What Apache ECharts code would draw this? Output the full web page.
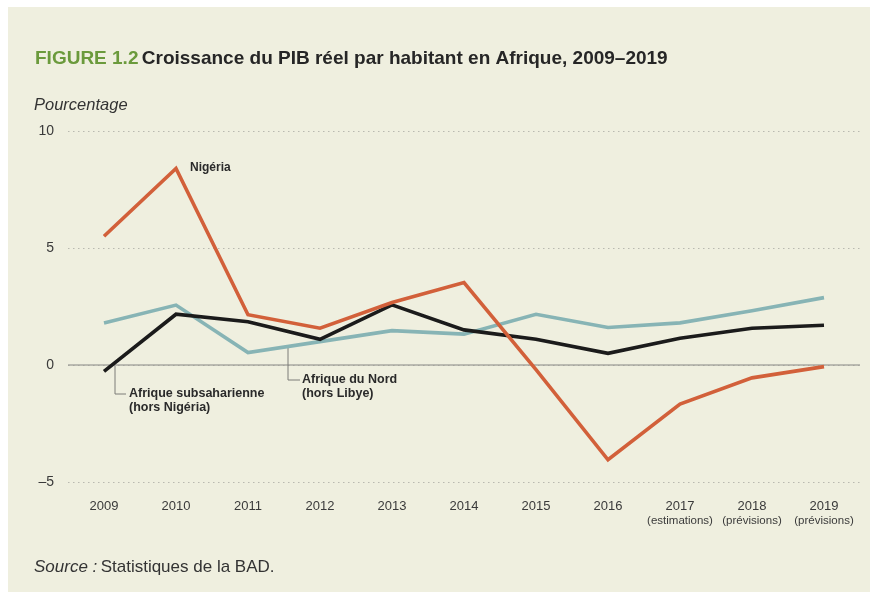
<!DOCTYPE html>
<html>
<head>
<meta charset="utf-8">
<script src="https://cdn.jsdelivr.net/npm/echarts@6/dist/echarts.min.js"></script>
<style>
    html, body { margin: 0; padding: 0; background: #fff; }
    #chart { width: 875px; height: 597px; }
</style>
</head>
<body>
<div id="chart"></div>
<script>
    // données
    const years = ['2009', '2010', '2011', '2012', '2013', '2014', '2015', '2016', '2017', '2018', '2019'];
    const yearNotes = ['', '', '', '', '', '', '', '', '(estimations)', '(prévisions)', '(prévisions)'];
    const nigeria = [5.5, 8.4, 2.15, 1.57, 2.67, 3.52, -0.2, -4.05, -1.67, -0.55, -0.07];
    const subsaharienne = [-0.27, 2.17, 1.85, 1.1, 2.57, 1.5, 1.1, 0.5, 1.14, 1.57, 1.7];
    const nord = [1.8, 2.56, 0.53, 1.0, 1.47, 1.32, 2.17, 1.6, 1.8, 2.32, 2.88];
    const yTicks = [-5, 0, 5, 10];

    const colors = {
        nigeria: '#d2603a',
        ssa: '#1b1b1b',
        nord: '#87b4b5'
    };
    const font = '"Liberation Sans", Arial, sans-serif';

    const lineSeries = (name, data, color) => ({
        name,
        type: 'line',
        data,
        symbol: 'none',
        animation: false,
        lineStyle: { color, width: 3.6, join: 'miter' },
        z: 3
    });

    const chart = echarts.init(document.getElementById('chart'));

    let option = {
        backgroundColor: '#fff',
        animation: false,
        grid: { left: 68, right: 15, top: 131, bottom: 115 },
        xAxis: {
            type: 'category',
            data: years,
            boundaryGap: true,
            axisLine: { show: false },
            axisTick: { show: false },
            axisLabel: {
                interval: 0,
                margin: 17,
                lineHeight: 14,
                formatter: (v, i) => yearNotes[i] ? `{y|${v}}\n{n|${yearNotes[i]}}` : `{y|${v}}`,
                rich: {
                    y: { fontFamily: font, fontSize: 13, color: '#3a3a3a', lineHeight: 15, width: 60, align: 'center' },
                    n: { fontFamily: font, fontSize: 11.5, color: '#3a3a3a', lineHeight: 14, width: 60, align: 'center' }
                }
            }
        },
        yAxis: {
            type: 'value',
            min: -5,
            max: 10,
            interval: 5,
            axisLine: { show: false },
            axisTick: { show: false },
            axisLabel: {
                margin: 14,
                fontFamily: font,
                fontSize: 14,
                color: '#3a3a3a',
                formatter: v => yTicks.includes(v) ? (v < 0 ? '–' + Math.abs(v) : String(v)) : ''
            },
            splitLine: {
                lineStyle: {
                    color: ['#b9b9b0', '#9a9a94', '#b9b9b0', '#b9b9b0'],
                    type: [1.5, 3.5],
                    width: 1.2
                }
            }
        },
        series: [
            lineSeries('Afrique du Nord (hors Libye)', nord, colors.nord),
            lineSeries('Afrique subsaharienne (hors Nigéria)', subsaharienne, colors.ssa),
            lineSeries('Nigéria', nigeria, colors.nigeria)
        ]
    };
    chart.setOption(option);

    // positions des annotations à partir des échelles
    const zeroY = chart.convertToPixel({ yAxisIndex: 0 }, 0);
    const p = (i, v) => chart.convertToPixel({ seriesIndex: 0 }, [i, v]);
    const p2009 = p(0, subsaharienne[0]);
    const p2011 = p(2, 0);
    const p2010 = p(1, nigeria[1]);

    const gfx = [
        { type: 'rect', shape: { x: 8, y: 7, width: 862, height: 585 }, style: { fill: '#efefdf' }, z: -10 },
        { type: 'line', shape: { x1: 68, y1: zeroY, x2: 860, y2: zeroY }, style: { stroke: '#a8a8a2', lineWidth: 1.3 }, z: 1 },
        // titre
        {
            type: 'text', left: 35, top: 49, z: 5,
            style: {
                text: '{g|FIGURE 1.2} {t|Croissance du PIB réel par habitant en Afrique, 2009–2019}',
                rich: {
                    g: { fontFamily: font, fontWeight: 'bold', fontSize: 19, fill: '#6b9a3c' },
                    t: { fontFamily: font, fontWeight: 'bold', fontSize: 19, fill: '#262626' }
                }
            }
        },
        {
            type: 'text', left: 34, top: 97, z: 5,
            style: { text: 'Pourcentage', fontFamily: font, fontStyle: 'italic', fontSize: 16.5, fill: '#333' }
        },
        {
            type: 'text', left: 34, top: 559, z: 5,
            style: {
                text: '{i|Source :} {r|Statistiques de la BAD.}',
                rich: {
                    i: { fontFamily: font, fontStyle: 'italic', fontSize: 17, fill: '#333' },
                    r: { fontFamily: font, fontSize: 17, fill: '#333' }
                }
            }
        },
        // étiquette Nigéria
        {
            type: 'text', x: p2010[0] + 14, y: p2010[1] - 1, z: 5,
            style: { text: 'Nigéria', fontFamily: font, fontWeight: 'bold', fontSize: 12, fill: '#2a2a2a', verticalAlign: 'middle' }
        },
        // Afrique subsaharienne
        {
            type: 'polyline', z: 2,
            shape: { points: [[p2009[0] + 11, zeroY + 1], [p2009[0] + 11, zeroY + 29], [p2009[0] + 22, zeroY + 29]] },
            style: { stroke: '#7d7d78', lineWidth: 1, fill: null }
        },
        {
            type: 'text', x: p2009[0] + 25, y: zeroY + 29, z: 5,
            style: {
                text: 'Afrique subsaharienne\n(hors Nigéria)', fontFamily: font, fontWeight: 'bold', fontSize: 12.5,
                fill: '#2a2a2a', lineHeight: 14, verticalAlign: 'top', padding: [-7, 0, 0, 0]
            }
        },
        // Afrique du Nord
        {
            type: 'polyline', z: 2,
            shape: { points: [[p2011[0] + 40, zeroY - 17], [p2011[0] + 40, zeroY + 15], [p2011[0] + 52, zeroY + 15]] },
            style: { stroke: '#7d7d78', lineWidth: 1, fill: null }
        },
        {
            type: 'text', x: p2011[0] + 54, y: zeroY + 15, z: 5,
            style: {
                text: 'Afrique du Nord\n(hors Libye)', fontFamily: font, fontWeight: 'bold', fontSize: 12.5,
                fill: '#2a2a2a', lineHeight: 14, verticalAlign: 'top', padding: [-7, 0, 0, 0]
            }
        }
    ];
    chart.setOption({ graphic: gfx });
</script>
</body>
</html>
